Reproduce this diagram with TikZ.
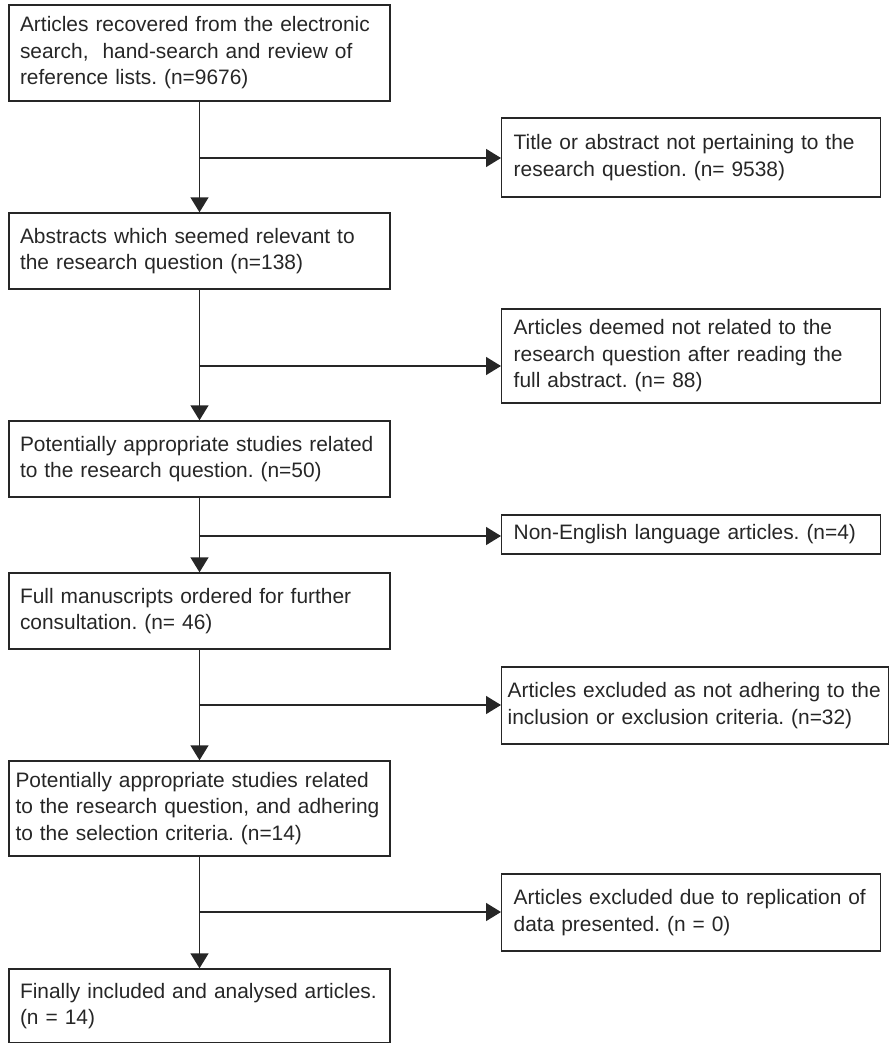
\documentclass[tikz,border=0pt]{standalone}
\usepackage{fontspec}
\setmainfont{Liberation Sans}
\usepackage{tikz}
\usetikzlibrary{arrows.meta,positioning,calc}
\frenchspacing
\hyphenpenalty=10000

\begin{document}
\begin{tikzpicture}[x=0.02cm, y=-0.02cm,
    every node/.style={font=\fontsize{11.9}{15.1}\selectfont, text=black!85},
    lbox/.style={draw=black!85, line width=0.8pt, align=left, text width=7.18cm, inner xsep=0.22cm, inner ysep=0.1cm},
    rbox/.style={draw=black!85, line width=0.8pt, align=left, text width=7.1cm, inner xsep=0.24cm, inner ysep=0.1cm, anchor=west},
    arr/.style={draw=black!85, line width=0.8pt, -{Triangle[length=0.3cm,width=0.36cm]}}]
        \useasboundingbox (0,0) rectangle (889,1043);
        \node[lbox, minimum height=1.92cm] (found) at (199.5,53) {Articles recovered from the electronic\\search, \ hand-search and review of\\reference lists. (n=9676)};
        \node[lbox, minimum height=1.52cm] (screened) at (199.5,251) {Abstracts which seemed relevant to\\the research question (n=138)};
        \node[lbox, minimum height=1.52cm] (relevant) at (199.5,459) {Potentially appropriate studies related\\to the research question. (n=50)};
        \node[lbox, minimum height=1.52cm] (ordered) at (199.5,611) {Full manuscripts ordered for further\\consultation. (n= 46)};
        \node[lbox, minimum height=1.9cm, text width=7.36cm, inner xsep=0.13cm] (eligible) at (199.5,808.5) {Potentially appropriate studies related\\to the research question, and adhering\\to the selection criteria. (n=14)};
        \node[lbox, minimum height=1.48cm] (included) at (199.5,1006) {Finally included and analysed articles.\\(n = 14)};

        \node[rbox, minimum height=1.58cm] (excl1) at (501,157.5) {Title or abstract not pertaining to the\\research question. (n= 9538)};
        \node[rbox, minimum height=1.88cm] (excl2) at (501,356) {Articles deemed not related to the\\research question after reading the\\full abstract. (n= 88)};
        \node[rbox, minimum height=0.78cm] (excl3) at (501,534.5) {Non-English language articles. (n=4)};
        \node[rbox, minimum height=1.54cm, text width=7.5cm, inner xsep=0.12cm] (excl4) at (501,705.5) {Articles excluded as not adhering to the\\inclusion or exclusion criteria. (n=32)};
        \node[rbox, minimum height=1.54cm] (excl5) at (501,912.5) {Articles excluded due to replication of\\data presented. (n = 0)};

        \coordinate (j1) at (199.5,158);
        \coordinate (j2) at (199.5,366);
        \coordinate (j3) at (199.5,536);
        \coordinate (j4) at (199.5,705);
        \coordinate (j5) at (199.5,912);

        \draw[arr] (found) -- (screened);
        \draw[arr] (screened) -- (relevant);
        \draw[arr] (relevant) -- (ordered);
        \draw[arr] (ordered) -- (eligible);
        \draw[arr] (eligible) -- (included);

        \draw[arr] (j1) -- (j1 -| excl1.west);
        \draw[arr] (j2) -- (j2 -| excl2.west);
        \draw[arr] (j3) -- (j3 -| excl3.west);
        \draw[arr] (j4) -- (j4 -| excl4.west);
        \draw[arr] (j5) -- (j5 -| excl5.west);
\end{tikzpicture}
\end{document}
